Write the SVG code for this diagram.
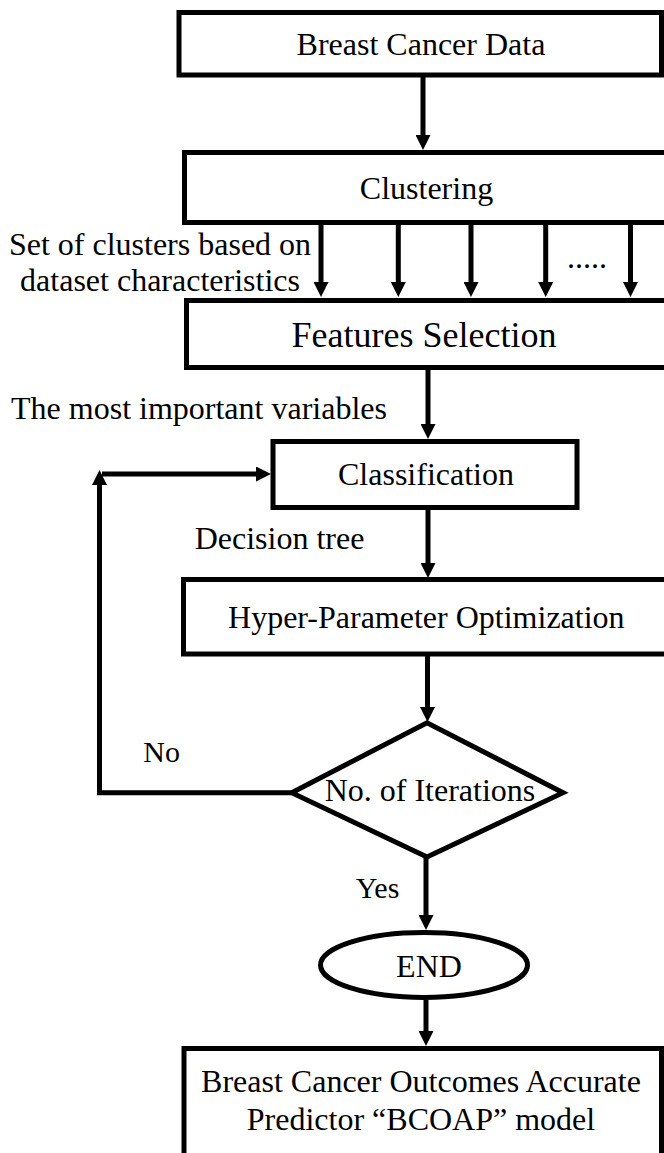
<svg xmlns="http://www.w3.org/2000/svg" width="664" height="1153" viewBox="0 0 664 1153">
<style>
.box{fill:#fff;stroke:#000;stroke-width:5}
.ln{fill:none;stroke:#000;stroke-width:5}
.t{font-family:"Liberation Serif","Times New Roman",serif;font-size:32px;fill:#000;text-anchor:middle}
.big{font-size:36px}
.sm{font-size:30px}
</style>
<defs>
<marker id="ah" viewBox="0 0 15 15" markerUnits="userSpaceOnUse" markerWidth="15" markerHeight="15" refX="0" refY="7.5" orient="auto">
<path d="M0,0 L15,7.5 L0,15 z" fill="#000"/>
</marker>
</defs>
<rect width="664" height="1153" fill="#fff"/>
<g id="connectors">
<line class="ln" x1="423" y1="77" x2="423" y2="135" marker-end="url(#ah)"/>
<line class="ln" x1="321" y1="225" x2="321" y2="282" marker-end="url(#ah)"/>
<line class="ln" x1="398.3" y1="225" x2="398.3" y2="282" marker-end="url(#ah)"/>
<line class="ln" x1="471" y1="225" x2="471" y2="282" marker-end="url(#ah)"/>
<line class="ln" x1="545.7" y1="225" x2="545.7" y2="282" marker-end="url(#ah)"/>
<line class="ln" x1="630.5" y1="225" x2="630.5" y2="282" marker-end="url(#ah)"/>
<line class="ln" x1="428" y1="370" x2="428" y2="424" marker-end="url(#ah)"/>
<line class="ln" x1="428" y1="510" x2="428" y2="563" marker-end="url(#ah)"/>
<line class="ln" x1="427.5" y1="656" x2="427.5" y2="707" marker-end="url(#ah)"/>
<line class="ln" x1="426" y1="857" x2="426" y2="915" marker-end="url(#ah)"/>
<line class="ln" x1="426" y1="1000" x2="426" y2="1031" marker-end="url(#ah)"/>
<polyline class="ln" points="291.7,792.7 99.5,792.7 99.5,485" marker-end="url(#ah)"/>
<line class="ln" x1="102" y1="474" x2="256" y2="474" marker-end="url(#ah)"/>
</g>
<g id="n-data">
<rect class="box" x="179" y="12.5" width="482.5" height="62.5"/>
<text class="t" x="421" y="55">Breast Cancer Data</text>
</g>
<g id="n-clustering">
<rect class="box" x="184.5" y="152.5" width="490" height="70"/>
<text class="t" x="426.5" y="199">Clustering</text>
</g>
<g id="l-clusters">
<text class="t" x="160" y="255">Set of clusters based on</text>
<text class="t" x="160" y="290.5">dataset characteristics</text>
<text class="t" x="587" y="268">.....</text>
</g>
<g id="n-features">
<rect class="box" x="186.5" y="300.5" width="490" height="67"/>
<text class="t big" x="424" y="347">Features Selection</text>
</g>
<g id="l-variables">
<text class="t" x="199" y="419">The most important variables</text>
</g>
<g id="n-classification">
<rect class="box" x="273" y="441.5" width="304" height="66"/>
<text class="t" x="426" y="485">Classification</text>
</g>
<g id="l-tree">
<text class="t" x="279.5" y="549">Decision tree</text>
</g>
<g id="n-hyper">
<rect class="box" x="183.5" y="579.5" width="490" height="74.5"/>
<text class="t" x="426.3" y="628">Hyper-Parameter Optimization</text>
</g>
<g id="n-iter">
<polygon class="box" points="291.7,792.7 427,722.7 563,792.7 427,857"/>
<text class="t" x="430" y="801">No. of Iterations</text>
</g>
<g id="l-no">
<text class="t sm" x="161.7" y="762">No</text>
</g>
<g id="l-yes">
<text class="t sm" x="377.5" y="898">Yes</text>
</g>
<g id="n-end">
<ellipse class="box" cx="424" cy="965" rx="103.5" ry="32.5"/>
<text class="t" x="429" y="977">END</text>
</g>
<g id="n-bcoap">
<rect class="box" x="184" y="1048.5" width="477.5" height="130"/>
<text class="t" x="421" y="1092">Breast Cancer Outcomes Accurate</text>
<text class="t" x="421" y="1130">Predictor “BCOAP” model</text>
</g>
</svg>
